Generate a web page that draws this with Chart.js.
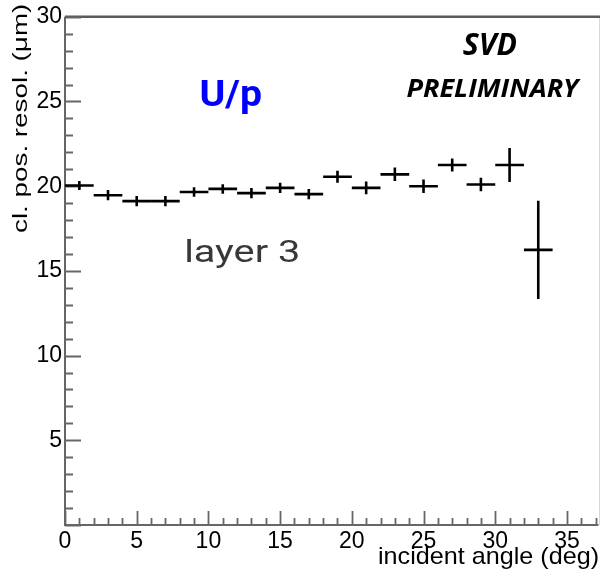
<!DOCTYPE html>
<html>
<head>
<meta charset="utf-8">
<script src="https://cdn.jsdelivr.net/npm/chart.js@4/dist/chart.umd.min.js"></script>
<style>
  html, body { margin: 0; padding: 0; background: #fff; }
  canvas { display: block; }
</style>
</head>
<body>
<canvas id="c" width="600" height="582"></canvas>
<script>
// Incident angle bins: centres and half widths (deg)
const angles = [1, 3, 5, 7, 9, 11, 13, 15, 17, 19, 21, 23, 25, 27, 29, 31, 33];
const binHalfWidth = [1, 1, 1, 1, 1, 1, 1, 1, 1, 1, 1, 1, 1, 1, 1, 1, 1];
// Cluster position resolution (um) and its uncertainty
const resolution = [20.04, 19.47, 19.12, 19.12, 19.66, 19.84, 19.59, 19.90, 19.53,
                    20.56, 19.90, 20.70, 20.00, 21.25, 20.10, 21.25, 16.24];
const resolutionErr = [0.27, 0.30, 0.30, 0.30, 0.28, 0.28, 0.30, 0.30, 0.30,
                       0.35, 0.38, 0.40, 0.40, 0.38, 0.40, 1.00, 2.90];
// Labelled ticks
const xTickValues = [0, 5, 10, 15, 20, 25, 30, 35];
const yTickValues = [5, 10, 15, 20, 25, 30];

const AXIS_GREY = '#666666';
const LABEL_FONT = '"Liberation Sans", Arial, sans-serif';

// Draw text so that its ink spans exactly inkWidth px, anchored by its ink box
function inkText(ctx, str, font, color, x, baseline, inkWidth, anchor) {
  ctx.save();
  ctx.font = font;
  ctx.fillStyle = color;
  ctx.textAlign = 'left';
  ctx.textBaseline = 'alphabetic';
  const m = ctx.measureText(str);
  const w = m.actualBoundingBoxLeft + m.actualBoundingBoxRight;
  const s = inkWidth / w;
  ctx.translate(x, baseline);
  ctx.scale(s, 1);
  let ox;
  if (anchor === 'left') ox = m.actualBoundingBoxLeft;
  else if (anchor === 'right') ox = -m.actualBoundingBoxRight;
  else ox = -(m.actualBoundingBoxRight - m.actualBoundingBoxLeft) / 2;
  ctx.fillText(str, ox, 0);
  ctx.restore();
}

// Frame, axis lines and inward-pointing major/minor ticks
const framePlugin = {
  id: 'frame',
  beforeDatasetsDraw(chart) {
    const { ctx, chartArea: a, scales: { x, y } } = chart;
    ctx.save();
    // light right border of the pad
    ctx.strokeStyle = '#d8d8d8';
    ctx.lineWidth = 1;
    ctx.beginPath(); ctx.moveTo(599.5, a.top); ctx.lineTo(599.5, a.bottom); ctx.stroke();
    // top border
    ctx.strokeStyle = '#5a5a5a';
    ctx.lineWidth = 2.5;
    ctx.beginPath(); ctx.moveTo(a.left, a.top); ctx.lineTo(600, a.top); ctx.stroke();
    // axes
    ctx.strokeStyle = AXIS_GREY;
    ctx.lineWidth = 2;
    ctx.beginPath();
    ctx.moveTo(a.left, a.top); ctx.lineTo(a.left, a.bottom);
    ctx.lineTo(a.right, a.bottom);
    ctx.stroke();
    // ticks
    ctx.lineWidth = 1.8;
    ctx.beginPath();
    for (let v = Math.ceil(y.min); v <= y.max; v++) {
      const py = Math.round(y.getPixelForValue(v)) + 0.5;
      const len = v % 5 === 0 ? 16 : 8;
      ctx.moveTo(a.left, py); ctx.lineTo(a.left + len, py);
    }
    for (let v = Math.ceil(x.min); v <= x.max; v++) {
      const px = Math.round(x.getPixelForValue(v)) + 0.5;
      const len = v % 5 === 0 ? 14 : 7;
      ctx.moveTo(px, a.bottom); ctx.lineTo(px, a.bottom - len);
    }
    ctx.stroke();
    ctx.restore();
  }
};

// Error-bar crosses: horizontal = bin width, vertical = uncertainty
const crossPlugin = {
  id: 'crosses',
  afterDatasetsDraw(chart) {
    const { ctx, scales: { x, y } } = chart;
    ctx.save();
    ctx.strokeStyle = '#000';
    ctx.lineWidth = 2.6;
    ctx.lineCap = 'butt';
    angles.forEach((ang, i) => {
      const px = x.getPixelForValue(ang);
      const py = y.getPixelForValue(resolution[i]);
      ctx.beginPath();
      ctx.moveTo(x.getPixelForValue(ang - binHalfWidth[i]), py);
      ctx.lineTo(x.getPixelForValue(ang + binHalfWidth[i]), py);
      ctx.moveTo(px, y.getPixelForValue(resolution[i] - resolutionErr[i]));
      ctx.lineTo(px, y.getPixelForValue(resolution[i] + resolutionErr[i]));
      ctx.stroke();
    });
    ctx.restore();
  }
};

// Axis titles and annotations
const textPlugin = {
  id: 'texts',
  afterDraw(chart) {
    const ctx = chart.ctx;
    // y-axis title, rotated, aligned to the top of the axis
    ctx.save();
    ctx.translate(27, 5);
    ctx.rotate(-Math.PI / 2);
    inkText(ctx, 'cl. pos. resol. (\u03bcm)', '21px ' + LABEL_FONT, '#000', 0, 0, 228, 'right');
    ctx.restore();
    // x-axis title, aligned to the right end of the axis
    inkText(ctx, 'incident angle (deg)', '24px ' + LABEL_FONT, '#000', 598, 564, 219, 'right');
    // labels inside the frame
    inkText(ctx, 'SVD', 'italic bold 30px "Open Sans", "Noto Sans", sans-serif', '#000', 489.7, 55, 54, 'center');
    inkText(ctx, 'PRELIMINARY', 'italic bold 25px "Open Sans", "Noto Sans", sans-serif', '#000', 494, 96.7, 175, 'center');
    inkText(ctx, 'U/p', 'bold 36px Roboto, sans-serif', '#0000ff', 201.7, 106, 60, 'left');
    inkText(ctx, 'layer 3', '31px Roboto, sans-serif', '#383838', 186.7, 261.7, 111.7, 'left');
  }
};

new Chart(document.getElementById('c'), {
  type: 'scatter',
  data: {
    datasets: [{
      data: angles.map((a, i) => ({ x: a, y: resolution[i] })),
      pointRadius: 0,
      showLine: false
    }]
  },
  options: {
    responsive: false,
    animation: false,
    devicePixelRatio: 1,
    layout: { padding: { top: 15, right: 1.5, left: 0, bottom: 0 } },
    plugins: { legend: { display: false }, tooltip: { enabled: false } },
    scales: {
      x: {
        type: 'linear',
        min: 0,
        max: 37.2,
        afterBuildTicks: s => { s.ticks = xTickValues.map(v => ({ value: v })); },
        afterFit: s => { s.height = 57; },
        grid: { display: false, drawTicks: false },
        border: { display: false },
        ticks: {
          font: { family: LABEL_FONT, size: 23 },
          color: '#000',
          padding: 3,
          autoSkip: false,
          maxRotation: 0
        }
      },
      y: {
        type: 'linear',
        min: 0,
        max: 30,
        afterBuildTicks: s => { s.ticks = yTickValues.map(v => ({ value: v })); },
        afterFit: s => { s.width = 65; },
        grid: { display: false, drawTicks: false },
        border: { display: false },
        ticks: {
          font: { family: LABEL_FONT, size: 23 },
          color: '#000',
          padding: 3,
          autoSkip: false
        }
      }
    }
  },
  plugins: [framePlugin, crossPlugin, textPlugin]
});
</script>
</body>
</html>
